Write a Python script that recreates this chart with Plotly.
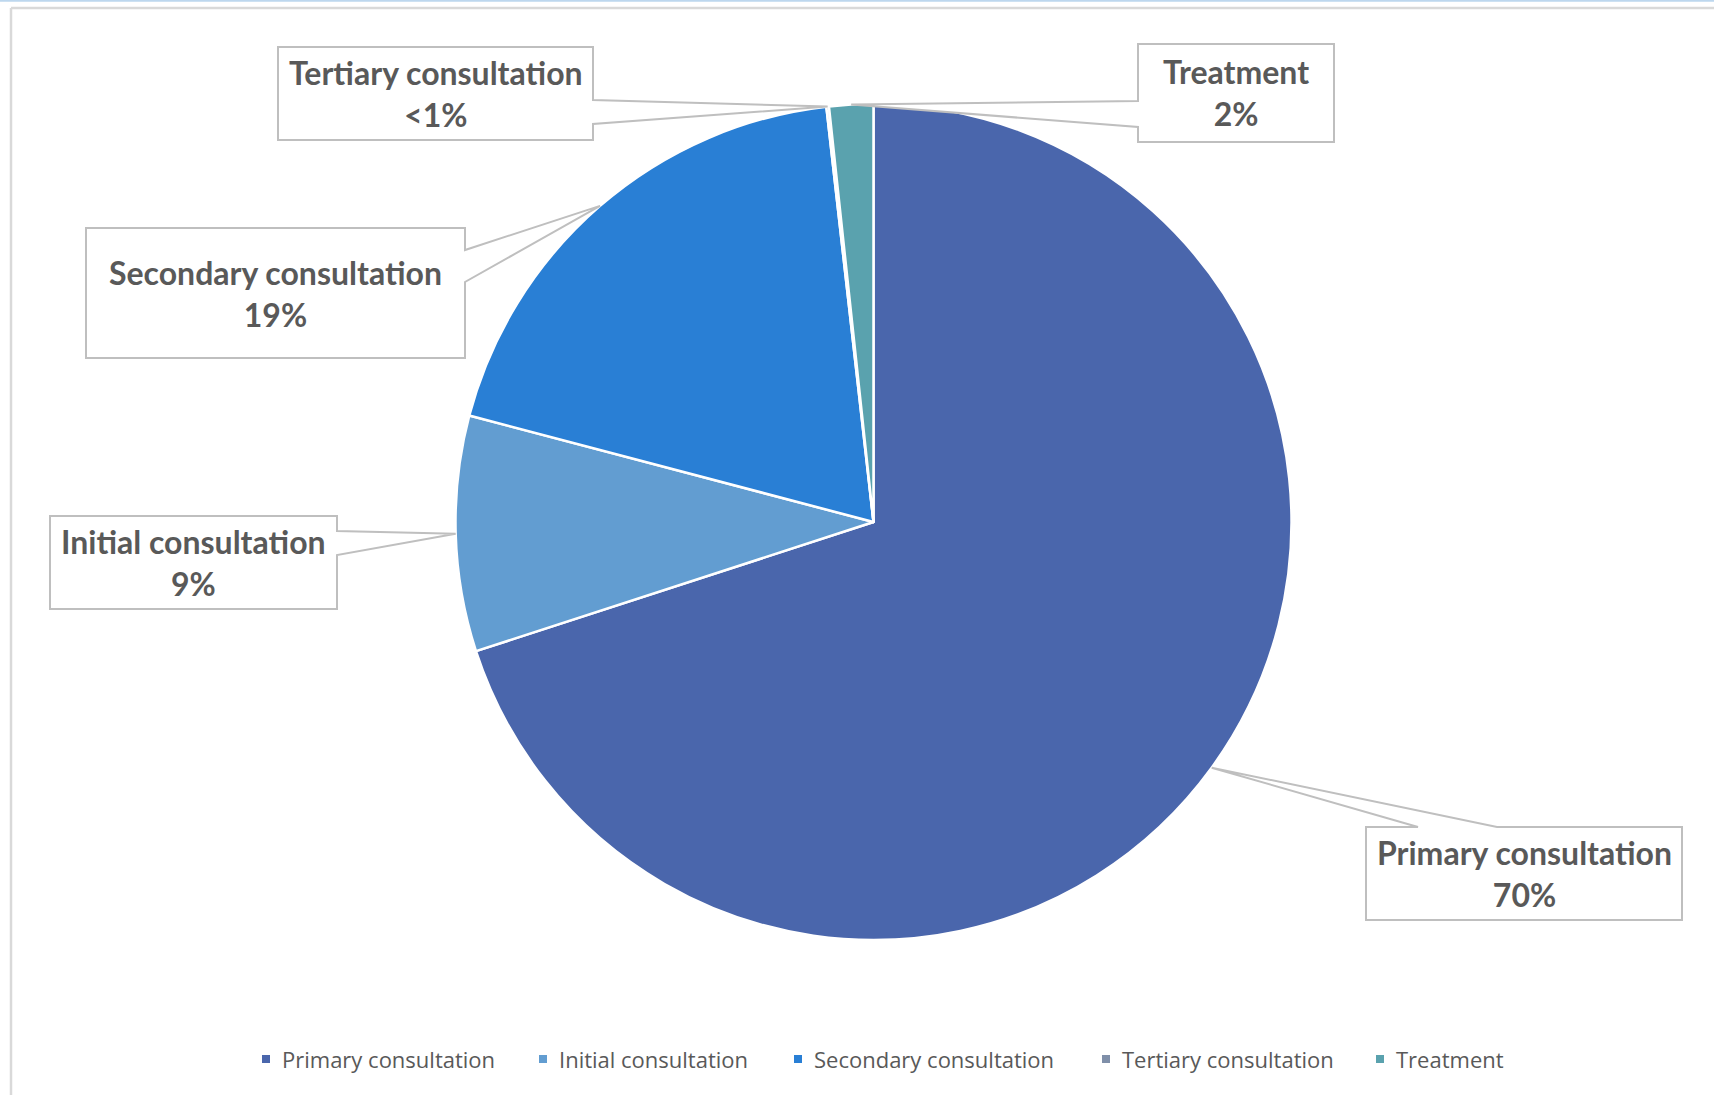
import math
import plotly.graph_objects as go

# ---------------- data ----------------
categories = ["Primary consultation", "Initial consultation", "Secondary consultation",
              "Tertiary consultation", "Treatment"]
shares = [70.0, 9.1, 19.1, 0.1, 1.7]
colors = ["#4A66AC", "#629DD1", "#297FD5", "#7F8FA9", "#5AA2AE"]

# ---------------- layout constants (pixels) ----------------
W, H = 1714, 1095
CX, CY, R = 873.5, 522, 418

# callout boxes: rect (x0, y0, x1, y1), side of the pointer, pointer attach coords
callouts = {
    "Primary consultation":   dict(rect=(1366, 827, 1682, 920), side="top",   att=(1418, 1497)),
    "Initial consultation":   dict(rect=(50, 516, 337, 609),    side="right", att=(531, 555)),
    "Secondary consultation": dict(rect=(86, 228, 465, 358),    side="right", att=(250, 282)),
    "Tertiary consultation":  dict(rect=(278, 47, 593, 140),    side="right", att=(100, 124)),
    "Treatment":              dict(rect=(1138, 44, 1334, 142),  side="left",  att=(101, 127)),
}

# custom legend layout: marker left edges (px), legend centre line (px)
legend_marker_x = [262, 539, 794, 1102, 1376]
LEGEND_Y = 1059
MARK = 8
TEXT_GAP = 18

TEXT_COLOR = "#595959"
BOX_LINE = "#BFBFBF"


def px(x):
    return x / W


def py(y):
    return 1 - y / H


fig = go.Figure()
fig.add_trace(go.Pie(
    labels=categories,
    values=shares,
    sort=False,
    direction="clockwise",
    rotation=0,
    marker=dict(colors=colors, line=dict(color="white", width=2.5)),
    textinfo="none",
    hoverinfo="label+percent",
    showlegend=False,
    domain=dict(x=[px(CX - R), px(CX + R)], y=[py(CY + R), py(CY - R)]),
))

total = sum(shares)
shapes = []
annotations = []
cum = 0.0
for cat, v in zip(categories, shares):
    mid = (cum + v / 2) / total * 2 * math.pi
    cum += v
    ax = CX + R * math.sin(mid)
    ay = CY - R * math.cos(mid)
    pct = v / total * 100
    pct_txt = "<1%" if pct < 1 else f"{pct:.0f}%"

    c = callouts[cat]
    x0, y0, x1, y1 = c["rect"]
    a1, a2 = c["att"]
    if c["side"] == "top":
        pts = [(x0, y0), (a1, y0), (ax, ay), (a2, y0), (x1, y0), (x1, y1), (x0, y1)]
    elif c["side"] == "right":
        pts = [(x0, y0), (x1, y0), (x1, a1), (ax, ay), (x1, a2), (x1, y1), (x0, y1)]
    else:  # left
        pts = [(x0, y0), (x1, y0), (x1, y1), (x0, y1), (x0, a2), (ax, ay), (x0, a1)]
    path = "M " + " L ".join(f"{px(x):.5f},{py(y):.5f}" for x, y in pts) + " Z"
    shapes.append(dict(type="path", xref="paper", yref="paper", path=path,
                       fillcolor="white", line=dict(color=BOX_LINE, width=2), layer="above"))
    annotations.append(dict(
        x=px((x0 + x1) / 2), y=py((y0 + y1) / 2), xref="paper", yref="paper",
        xanchor="center", yanchor="middle", showarrow=False,
        text=f"<b>{cat}</b><br><b>{pct_txt}</b>", align="center",
        font=dict(family="Lato", size=32, color=TEXT_COLOR),
    ))

# legend (drawn from the category/colour lists)
for cat, col, mx in zip(categories, colors, legend_marker_x):
    shapes.append(dict(type="rect", xref="paper", yref="paper",
                       x0=px(mx), x1=px(mx + MARK),
                       y0=py(LEGEND_Y + MARK / 2), y1=py(LEGEND_Y - MARK / 2),
                       fillcolor=col, line=dict(width=0), layer="above"))
    annotations.append(dict(
        x=px(mx + TEXT_GAP), y=py(LEGEND_Y), xref="paper", yref="paper",
        xanchor="left", yanchor="middle", showarrow=False, text=cat,
        font=dict(family="Open Sans", size=22, color=TEXT_COLOR),
    ))

# chart frame lines
shapes.append(dict(type="line", xref="paper", yref="paper", x0=0, x1=1, y0=py(0.8), y1=py(0.8),
                   line=dict(color="#BDD7EE", width=2), layer="below"))
shapes.append(dict(type="line", xref="paper", yref="paper", x0=px(11), x1=1, y0=py(8), y1=py(8),
                   line=dict(color="#D9D9D9", width=2.5), layer="below"))
shapes.append(dict(type="line", xref="paper", yref="paper", x0=px(11), x1=px(11), y0=py(8), y1=0,
                   line=dict(color="#D9D9D9", width=2.5), layer="below"))

fig.update_layout(
    width=W, height=H,
    margin=dict(l=0, r=0, t=0, b=0),
    paper_bgcolor="white", plot_bgcolor="white",
    shapes=shapes,
    annotations=annotations,
    showlegend=False,
)

fig.write_html("out.html")
